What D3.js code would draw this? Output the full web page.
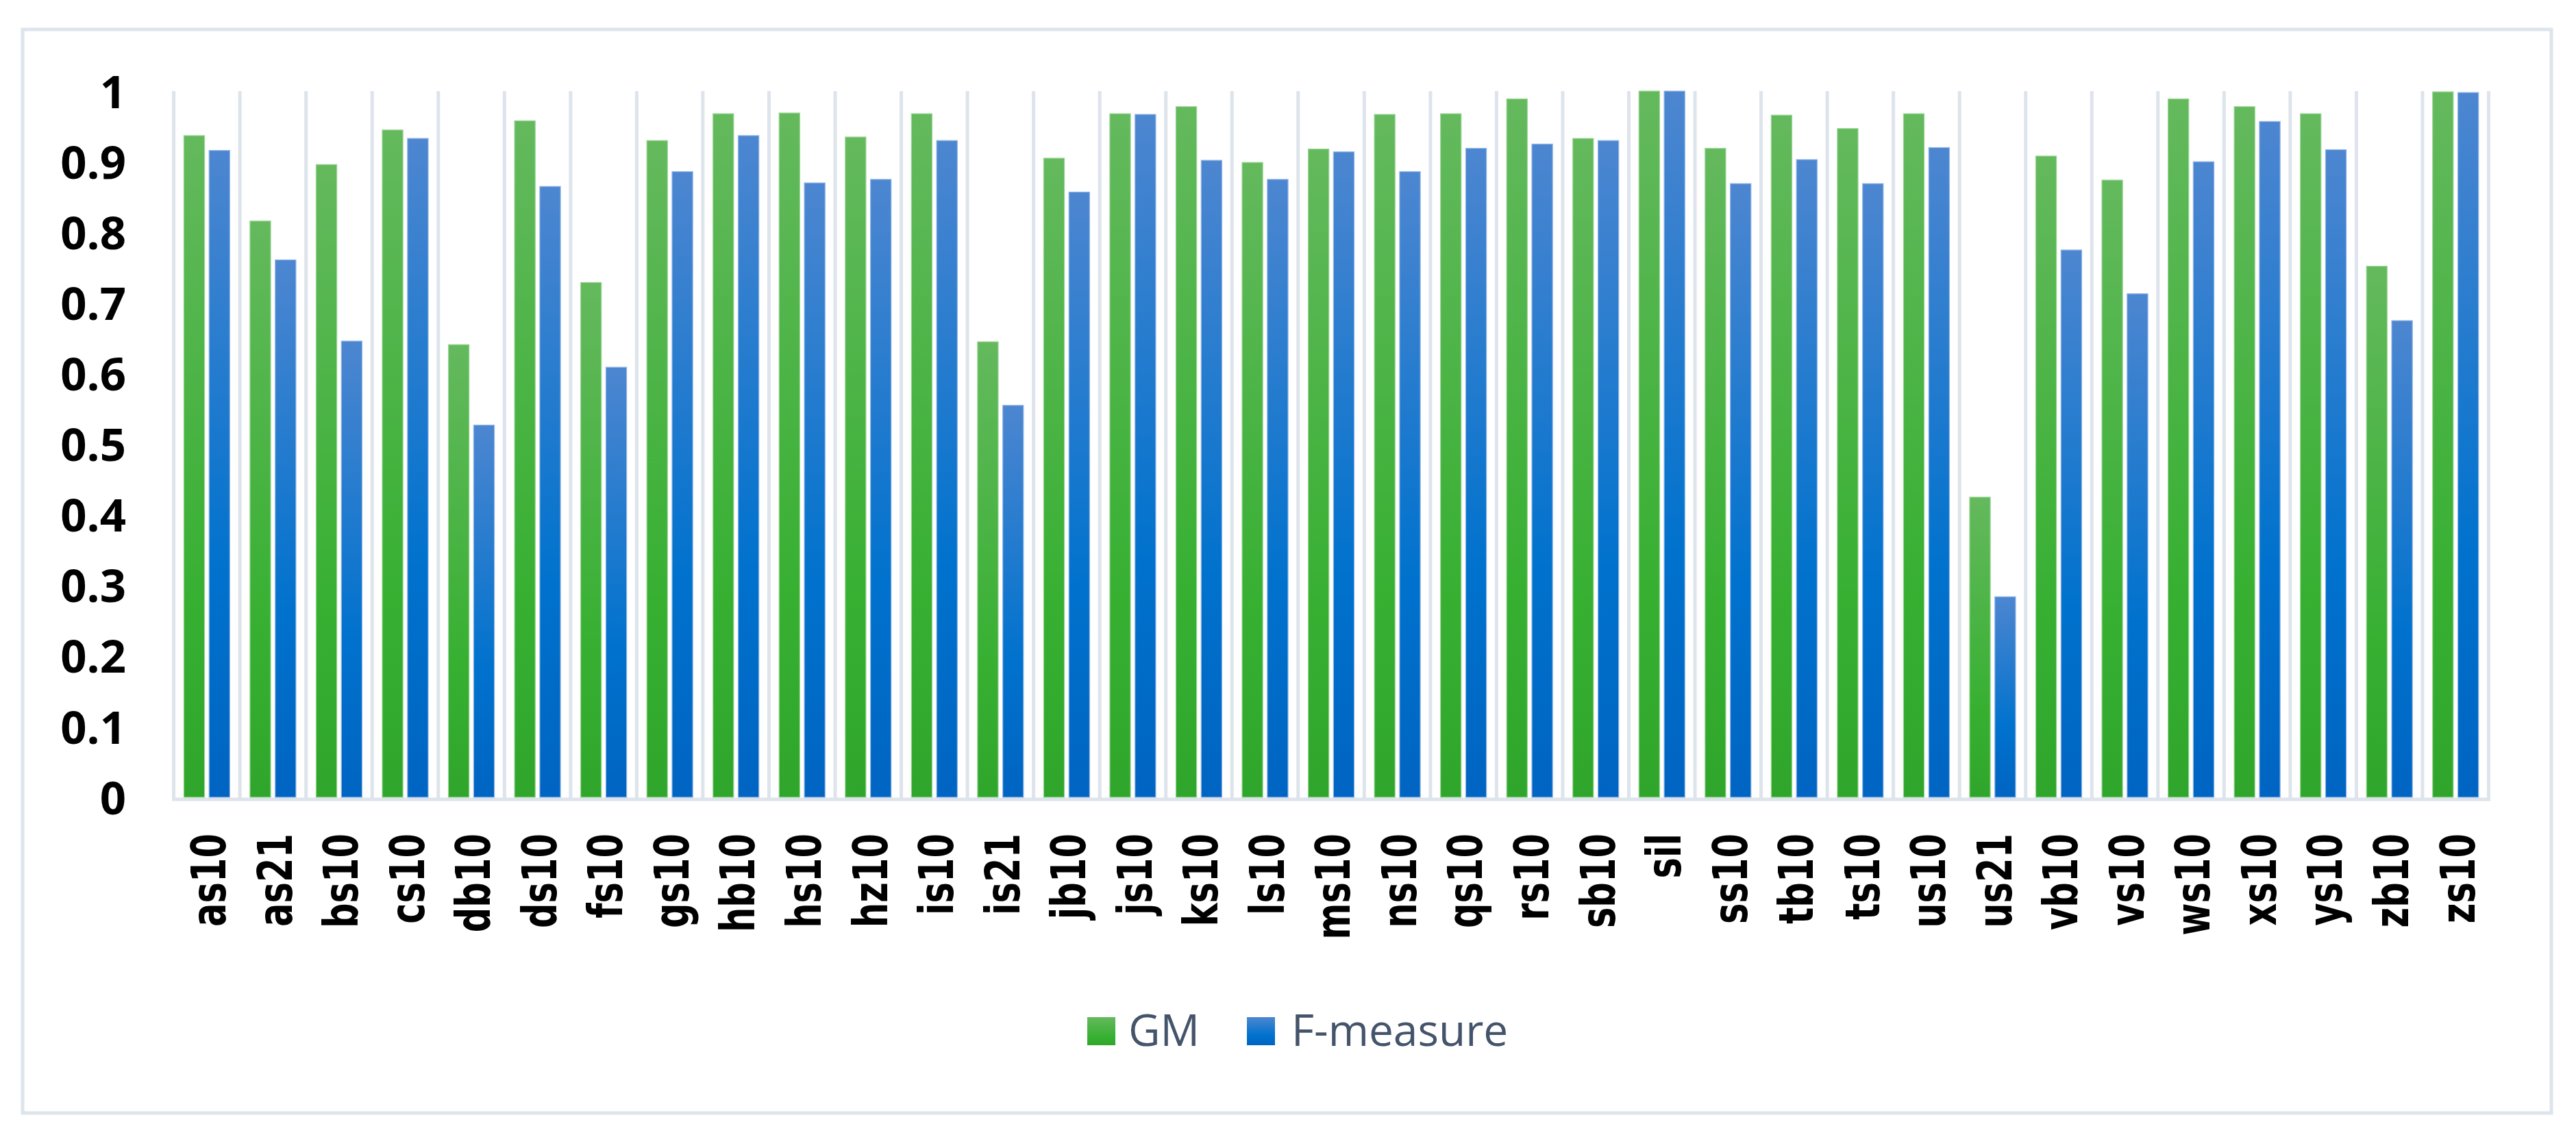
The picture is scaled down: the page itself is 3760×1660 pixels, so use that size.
<!DOCTYPE html>
<html>
<head>
<meta charset="utf-8">
<script src="https://cdn.jsdelivr.net/npm/d3@7"></script>
<style>
  html, body { margin: 0; padding: 0; background: #fff; }
  svg { display: block; }
</style>
</head>
<body>
<div id="chart"></div>
<script>
// data
const categories = ['as10', 'as21', 'bs10', 'cs10', 'db10', 'ds10', 'fs10', 'gs10', 'hb10', 'hs10',
  'hz10', 'is10', 'is21', 'jb10', 'js10', 'ks10', 'ls10', 'ms10', 'ns10', 'qs10',
  'rs10', 'sb10', 'sil', 'ss10', 'tb10', 'ts10', 'us10', 'us21', 'vb10', 'vs10',
  'ws10', 'xs10', 'ys10', 'zb10', 'zs10']
const gmValues = [0.937, 0.816, 0.896, 0.945, 0.641, 0.958, 0.729, 0.930, 0.968, 0.969,
  0.935, 0.968, 0.645, 0.905, 0.968, 0.978, 0.899, 0.918, 0.967, 0.968,
  0.989, 0.933, 1.000, 0.919, 0.966, 0.947, 0.968, 0.425, 0.908, 0.874,
  0.989, 0.978, 0.968, 0.752, 0.999]
const fValues = [0.916, 0.761, 0.646, 0.933, 0.527, 0.865, 0.609, 0.886, 0.937, 0.870,
  0.875, 0.930, 0.555, 0.857, 0.967, 0.902, 0.875, 0.914, 0.886, 0.919,
  0.925, 0.930, 1.000, 0.869, 0.903, 0.869, 0.920, 0.284, 0.775, 0.713,
  0.900, 0.957, 0.917, 0.675, 0.998]
const seriesNames = ['GM', 'F-measure']
const yTickValues = [0, 0.1, 0.2, 0.3, 0.4, 0.5, 0.6, 0.7, 0.8, 0.9, 1]
const yTickLabels = ['0', '0.1', '0.2', '0.3', '0.4', '0.5', '0.6', '0.7', '0.8', '0.9', '1']

const width = 3760, height = 1660
const plot = {left: 253.6, right: 3632.5, top: 133, bottom: 1164}
const gridColor = '#dde4eb'

const data = categories.map((c, i) => ({cat: c, values: [gmValues[i], fValues[i]]}))

const svg = d3.select('#chart').append('svg')
    .attr('width', width)
    .attr('height', height)

// gradients for the bars (lighter at the top)
const defs = svg.append('defs')
const gradStops = [
    [['0%', '#64b95d'], ['70%', '#37b032'], ['100%', '#2fa62b']],
    [['0%', '#4d86d0'], ['65%', '#0072cd'], ['100%', '#0064c2']]
]
gradStops.forEach((stops, k) => {
    let g = defs.append('linearGradient')
        .attr('id', 'grad' + k)
        .attr('x1', 0).attr('y1', 0).attr('x2', 0).attr('y2', 1)
    stops.forEach(s => g.append('stop').attr('offset', s[0]).attr('stop-color', s[1]))
})
const strokeColors = ['#9fd69a', '#93b6e6']

// outer frame
svg.append('rect')
    .attr('x', 33).attr('y', 43)
    .attr('width', 3724 - 33).attr('height', 1625 - 43)
    .attr('fill', 'none')
    .attr('stroke', gridColor)
    .attr('stroke-width', 5)

let x0 = d3.scaleBand()
    .domain(categories)
    .range([plot.left, plot.right])
    .paddingInner(0)
    .paddingOuter(0)

let x1 = d3.scaleBand()
    .domain([0, 1])
    .range([0, x0.bandwidth()])
    .paddingInner(0.18)
    .paddingOuter(0.4)

let y = d3.scaleLinear()
    .domain([0, 1])
    .range([plot.bottom, plot.top])

// vertical gridlines at category boundaries
const bounds = categories.map(c => x0(c)).concat([plot.right])
svg.append('g').selectAll('line')
    .data(bounds)
    .enter().append('line')
    .attr('x1', d => d).attr('x2', d => d)
    .attr('y1', y(1)).attr('y2', plot.bottom + 3)
    .attr('stroke', gridColor)
    .attr('stroke-width', 5)

// baseline
svg.append('line')
    .attr('x1', plot.left - 2.5).attr('x2', plot.right + 2.5)
    .attr('y1', plot.bottom + 3).attr('y2', plot.bottom + 3)
    .attr('stroke', gridColor)
    .attr('stroke-width', 5)

// bars
let groups = svg.append('g').selectAll('g')
    .data(data)
    .enter().append('g')
    .attr('transform', d => 'translate(' + x0(d.cat) + ',0)')

groups.selectAll('rect')
    .data(d => d.values.map((v, k) => ({k: k, v: v})))
    .enter().append('rect')
    .attr('x', d => x1(d.k))
    .attr('width', x1.bandwidth())
    .attr('y', d => y(d.v))
    .attr('height', d => y(0) - y(d.v))
    .attr('fill', d => 'url(#grad' + d.k + ')')
    .attr('stroke', d => strokeColors[d.k])
    .attr('stroke-width', 1.2)

// y axis
let yAxis = svg.append('g')
    .attr('transform', 'translate(184,0)')
    .call(d3.axisLeft(y)
        .tickValues(yTickValues)
        .tickFormat((d, i) => yTickLabels[i])
        .tickSize(0)
        .tickPadding(0))
yAxis.select('.domain').remove()
yAxis.selectAll('text')
    .attr('font-family', "'Open Sans', sans-serif")
    .attr('font-weight', 'bold')
    .attr('font-size', 67)
    .attr('fill', '#000')
    .attr('dy', '0.36em')

// x axis labels, rotated
let xAxis = svg.append('g')
    .attr('transform', 'translate(0,' + 1217 + ')')
    .call(d3.axisBottom(x0).tickSize(0).tickPadding(0))
xAxis.select('.domain').remove()
xAxis.selectAll('text')
    .attr('font-family', "'DejaVu Sans', Verdana, sans-serif")
    .attr('font-weight', 'bold')
    .attr('font-size', 70)
    .attr('fill', '#000')
    .attr('text-anchor', 'end')
    .attr('y', 0)
    .attr('dy', '0.39em')
    .attr('transform', 'rotate(-90) scale(0.73,1)')

// legend
const legendItems = [
    {name: seriesNames[0], sx: 1587, tx: 1647},
    {name: seriesNames[1], sx: 1820, tx: 1885}
]
let legend = svg.append('g')
legendItems.forEach((d, k) => {
    legend.append('rect')
        .attr('x', d.sx).attr('y', 1485)
        .attr('width', 41).attr('height', 41)
        .attr('fill', 'url(#grad' + k + ')')
    legend.append('text')
        .attr('x', d.tx).attr('y', 1527)
        .attr('font-family', "'Open Sans', sans-serif")
        .attr('font-size', 64)
        .attr('fill', '#44546a')
        .text(d.name)
})
</script>
</body>
</html>
